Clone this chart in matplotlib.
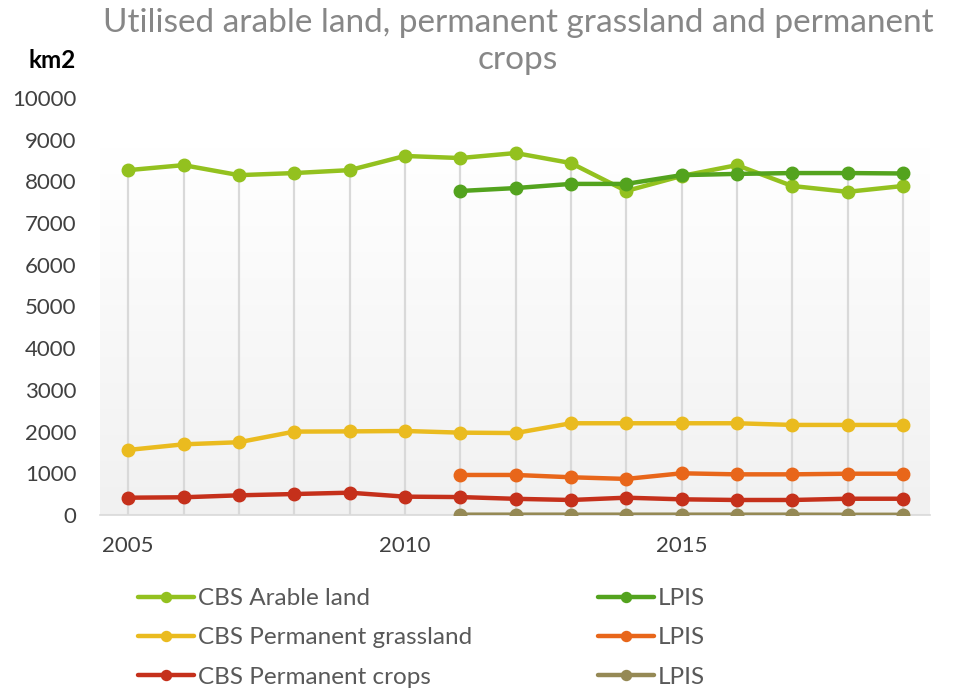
import matplotlib.pyplot as plt
import numpy as np

# data (km2)
years = list(range(2005, 2020))
lpis_years = list(range(2011, 2020))

cbs_arable = [8270, 8390, 8150, 8200, 8270, 8610, 8560, 8680, 8440, 7770, 8130, 8390, 7890, 7750, 7890]
lpis_arable = [7770, 7840, 7940, 7940, 8150, 8180, 8200, 8200, 8190]
cbs_grass = [1560, 1695, 1745, 2000, 2005, 2015, 1975, 1965, 2200, 2200, 2200, 2200, 2160, 2160, 2160]
lpis_grass = [960, 960, 905, 865, 1000, 975, 975, 990, 990]
cbs_crops = [415, 425, 472, 503, 535, 440, 430, 388, 360, 415, 376, 360, 360, 390, 390]
lpis_crops = [8, 8, 8, 8, 8, 8, 8, 5, 5]

xticks = [2005, 2010, 2015]
yticks = list(range(0, 10001, 1000))

plt.rcParams['font.family'] = ['Lato', 'DejaVu Sans']

fig = plt.figure(figsize=(9.63, 6.90), dpi=100)
ax = fig.add_axes([100/963, (690-515)/690, 830/963, (515-98)/690])

x0, x1 = 2004.49, 2019.49
ax.set_xlim(x0, x1)

# gradient background, white at top to light gray at bottom
grad = np.concatenate([np.ones(30), np.linspace(1.0, 0.945, 226)]).reshape(-1, 1)
ax.imshow(np.dstack([grad, grad, grad]), aspect='auto', extent=[x0, x1, 0, 10000],
          origin='upper', zorder=0)
ax.set_ylim(0, 10000)

# drop lines from the top series down to the axis
tops = {}
for xs, ys in [(years, cbs_arable), (lpis_years, lpis_arable)]:
    for x, y in zip(xs, ys):
        tops[x] = max(tops.get(x, 0), y)
ax.vlines(list(tops.keys()), 0, list(tops.values()), color='#d9d9d9', lw=1.6, zorder=1)

series = [
    (years, cbs_arable, '#93c11f', 'CBS Arable land'),
    (years, cbs_grass, '#eabb1f', 'CBS Permanent grassland'),
    (years, cbs_crops, '#c5301b', 'CBS Permanent crops'),
    (lpis_years, lpis_arable, '#53a31e', 'LPIS'),
    (lpis_years, lpis_grass, '#e8661a', 'LPIS'),
    (lpis_years, lpis_crops, '#958955', 'LPIS'),
]
handles = []
for xs, ys, c, lab in series:
    h, = ax.plot(xs, ys, color=c, lw=3.2, marker='o', markersize=9, label=lab, zorder=3,
                 solid_capstyle='round')
    handles.append(h)

for s in ['top', 'left', 'right']:
    ax.spines[s].set_visible(False)
ax.spines['bottom'].set_color('#d9d9d9')
ax.spines['bottom'].set_linewidth(1.2)
ax.set_xticks(xticks)
ax.set_yticks(yticks)
ax.tick_params(length=0, labelsize=16, colors='#404040')
ax.tick_params(axis='x', pad=15)
ax.tick_params(axis='y', pad=17)

fig.text(518/963, 1 - 8/690, 'Utilised arable land, permanent grassland and permanent\ncrops',
         ha='center', va='top', fontsize=24, color='#878787', linespacing=1.28)
fig.text(52/963, 1 - 60/690, 'km2', ha='center', va='center', fontsize=17.5,
         fontweight='bold', color='black')

leg = fig.legend(handles=handles, ncol=2, loc='upper left', bbox_to_anchor=(138/963, 1 - 588/690),
                 frameon=False, fontsize=17.5, labelcolor='#595959', handlelength=2.3,
                 handletextpad=0.15, columnspacing=5.2, labelspacing=0.75, markerscale=0.8,
                 borderpad=0, borderaxespad=0)

fig.savefig('out.png', dpi=100)
